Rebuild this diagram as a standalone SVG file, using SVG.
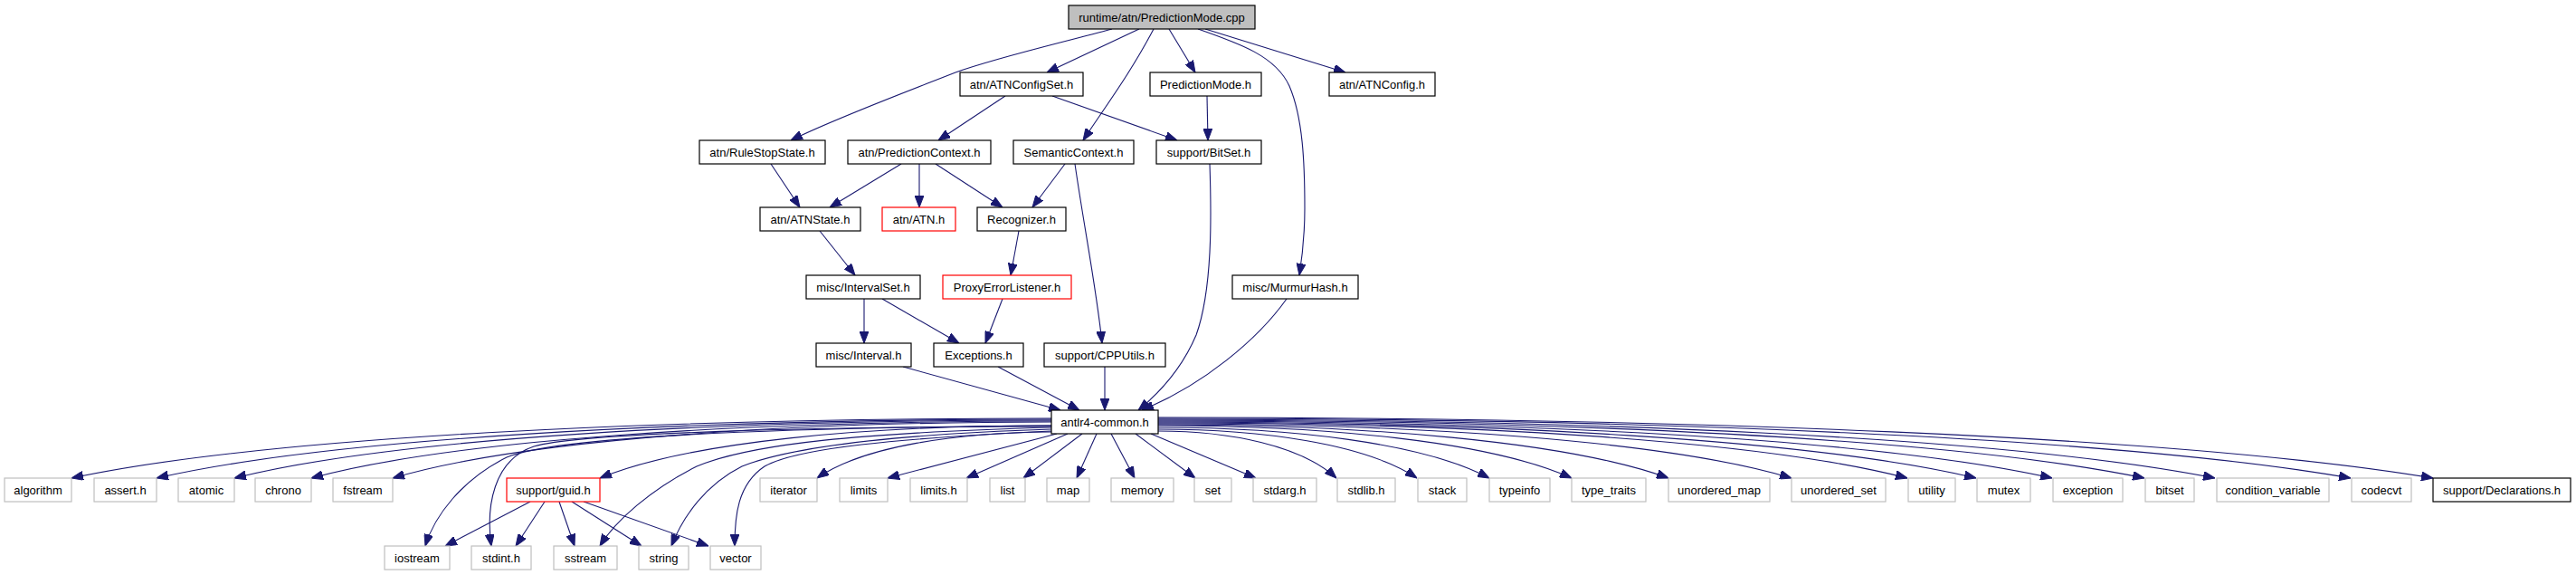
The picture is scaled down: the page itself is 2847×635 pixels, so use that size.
<svg xmlns="http://www.w3.org/2000/svg" width="2847" height="635" viewBox="0 0 2847 635">
<style>
rect{stroke-width:1.2}
.n rect{fill:#fff;stroke:#000}
.top rect{fill:#bfbfbf;stroke:#000}
.red rect{fill:#fff;stroke:#ff0000}
.ext rect{fill:#fff;stroke:#bfbfbf}
text{font-family:"Liberation Sans",Arial,sans-serif;font-size:13px;text-anchor:middle;fill:#000}
#edges path{fill:none;stroke:#191970;stroke-width:1.1;marker-end:url(#ah)}
</style>
<defs>
<marker id="ah" markerUnits="userSpaceOnUse" markerWidth="13" markerHeight="10" viewBox="0 0 13 10" refX="13" refY="5" orient="auto">
<path d="M0,0 L13,5 L0,10 z" fill="#191970" stroke="#191970" stroke-width="1"/>
</marker>
</defs>
<rect width="2847" height="635" fill="#fff"/>
<g id="edges">
<path d="M1229,32 C1170,48 1100,64 1056,80 C1000,102 920,132 874,155"/>
<path d="M1259,32 L1157,80"/>
<path d="M1275,32 C1250,80 1220,120 1197,155"/>
<path d="M1292,32 L1321,80"/>
<path d="M1324,32 C1370,48 1410,62 1425,95 C1440,130 1442,180 1442,230 C1442,260 1439,285 1436,304"/>
<path d="M1332,32 L1487,80"/>
<path d="M1111,106 L1037,155"/>
<path d="M1163,106 L1301,155"/>
<path d="M1334,106 L1335,155"/>
<path d="M852,181 L884,229"/>
<path d="M996,181 L917,229"/>
<path d="M1016,181 L1016,229"/>
<path d="M1034,181 L1108,229"/>
<path d="M1177,181 L1141,229"/>
<path d="M1188,181 C1198,250 1212,320 1218,379"/>
<path d="M1337,181 C1339,240 1340,320 1322,370 C1305,410 1280,435 1258,453"/>
<path d="M906,255 L945,304"/>
<path d="M1126,255 L1117,304"/>
<path d="M955,330 L955,379"/>
<path d="M975,330 L1060,379"/>
<path d="M1108,330 L1089,379"/>
<path d="M1422,330 C1390,375 1330,425 1262,453"/>
<path d="M998,405 L1172,453"/>
<path d="M1103,405 L1193,453"/>
<path d="M1221,405 L1221,453"/>
<path d="M1162,462 C729,462 296,482 79,528"/>
<path d="M1162,463 C766,463 371,483 173,528"/>
<path d="M1162,464 C801,464 440,483 259,528"/>
<path d="M1162,465 C835,465 508,484 344,528"/>
<path d="M1162,466 C871,466 580,485 434,528"/>
<path d="M1162,470 C962,470 763,487 663,528"/>
<path d="M1162,477 C1058,478 955,492 903,528"/>
<path d="M1168,479 L981,528"/>
<path d="M1180,479 L1068,528"/>
<path d="M1196,479 L1131,528"/>
<path d="M1212,479 L1190,528"/>
<path d="M1228,479 L1254,528"/>
<path d="M1255,479 L1321,528"/>
<path d="M1272,479 L1388,528"/>
<path d="M1280,476 C1359,476 1438,492 1477,528"/>
<path d="M1280,474 C1394,474 1509,490 1566,528"/>
<path d="M1280,472 C1426,472 1573,489 1646,528"/>
<path d="M1280,470 C1463,470 1646,487 1737,528"/>
<path d="M1280,469 C1506,469 1731,487 1844,528"/>
<path d="M1280,468 C1560,468 1840,486 1980,528"/>
<path d="M1280,467 C1611,467 1942,485 2108,528"/>
<path d="M1280,466 C1642,466 2003,485 2184,528"/>
<path d="M1280,465 C1675,465 2070,484 2268,528"/>
<path d="M1280,464 C1716,464 2152,483 2370,528"/>
<path d="M1280,463 C1747,463 2214,482 2448,528"/>
<path d="M1280,462 C1807,462 2334,482 2598,528"/>
<path d="M1280,461 C1844,461 2407,481 2689,528"/>
<path d="M1162,470 C900,472 620,480 560,505 C510,530 480,570 470,603"/>
<path d="M1162,471 C900,471 640,478 590,493 C545,508 537,560 543,603"/>
<path d="M1162,472 C950,478 830,490 770,515 C720,540 680,575 663,603"/>
<path d="M1162,474 C980,480 870,495 820,515 C780,535 755,570 742,603"/>
<path d="M1162,476 C990,484 880,495 845,515 C815,535 812,570 812,603"/>
<path d="M586,554 L492,603"/>
<path d="M602,554 L570,603"/>
<path d="M618,554 L635,603"/>
<path d="M632,554 L709,603"/>
<path d="M645,554 L783,603"/>
</g>
<g id="node-cpp" class="top"><rect x="1181" y="6" width="206" height="26"/><text x="1284" y="24">runtime/atn/PredictionMode.cpp</text></g>
<g id="node-atnconfigset" class="n"><rect x="1061" y="80" width="136" height="26"/><text x="1129" y="98">atn/ATNConfigSet.h</text></g>
<g id="node-predictionmode" class="n"><rect x="1271" y="80" width="123" height="26"/><text x="1332.5" y="98">PredictionMode.h</text></g>
<g id="node-atnconfig" class="n"><rect x="1469" y="80" width="117" height="26"/><text x="1527.5" y="98">atn/ATNConfig.h</text></g>
<g id="node-rulestopstate" class="n"><rect x="773" y="155" width="139" height="26"/><text x="842.5" y="173">atn/RuleStopState.h</text></g>
<g id="node-predictioncontext" class="n"><rect x="937" y="155" width="158" height="26"/><text x="1016" y="173">atn/PredictionContext.h</text></g>
<g id="node-semanticcontext" class="n"><rect x="1120" y="155" width="133" height="26"/><text x="1186.5" y="173">SemanticContext.h</text></g>
<g id="node-bitset" class="n"><rect x="1278" y="155" width="116" height="26"/><text x="1336" y="173">support/BitSet.h</text></g>
<g id="node-atnstate" class="n"><rect x="840" y="229" width="111" height="26"/><text x="895.5" y="247">atn/ATNState.h</text></g>
<g id="node-atn" class="red"><rect x="975" y="229" width="81" height="26"/><text x="1015.5" y="247">atn/ATN.h</text></g>
<g id="node-recognizer" class="n"><rect x="1080" y="229" width="98" height="26"/><text x="1129" y="247">Recognizer.h</text></g>
<g id="node-intervalset" class="n"><rect x="891" y="304" width="126" height="26"/><text x="954" y="322">misc/IntervalSet.h</text></g>
<g id="node-proxyerrorlistener" class="red"><rect x="1042" y="304" width="142" height="26"/><text x="1113" y="322">ProxyErrorListener.h</text></g>
<g id="node-murmurhash" class="n"><rect x="1362" y="304" width="139" height="26"/><text x="1431.5" y="322">misc/MurmurHash.h</text></g>
<g id="node-interval" class="n"><rect x="902" y="379" width="105" height="26"/><text x="954.5" y="397">misc/Interval.h</text></g>
<g id="node-exceptions" class="n"><rect x="1032" y="379" width="99" height="26"/><text x="1081.5" y="397">Exceptions.h</text></g>
<g id="node-cpputils" class="n"><rect x="1154" y="379" width="134" height="26"/><text x="1221" y="397">support/CPPUtils.h</text></g>
<g id="node-antlr4common" class="n"><rect x="1162" y="453" width="118" height="26"/><text x="1221" y="471">antlr4-common.h</text></g>
<g id="node-algorithm" class="ext"><rect x="5" y="528" width="74" height="26"/><text x="42" y="546">algorithm</text></g>
<g id="node-assert" class="ext"><rect x="104" y="528" width="69" height="26"/><text x="138.5" y="546">assert.h</text></g>
<g id="node-atomic" class="ext"><rect x="197" y="528" width="62" height="26"/><text x="228" y="546">atomic</text></g>
<g id="node-chrono" class="ext"><rect x="282" y="528" width="62" height="26"/><text x="313" y="546">chrono</text></g>
<g id="node-fstream" class="ext"><rect x="368" y="528" width="66" height="26"/><text x="401" y="546">fstream</text></g>
<g id="node-guid" class="red"><rect x="560" y="528" width="103" height="26"/><text x="611.5" y="546">support/guid.h</text></g>
<g id="node-iterator" class="ext"><rect x="840" y="528" width="63" height="26"/><text x="871.5" y="546">iterator</text></g>
<g id="node-limits" class="ext"><rect x="928" y="528" width="53" height="26"/><text x="954.5" y="546">limits</text></g>
<g id="node-limitsh" class="ext"><rect x="1006" y="528" width="63" height="26"/><text x="1037.5" y="546">limits.h</text></g>
<g id="node-list" class="ext"><rect x="1094" y="528" width="39" height="26"/><text x="1113.5" y="546">list</text></g>
<g id="node-map" class="ext"><rect x="1157" y="528" width="47" height="26"/><text x="1180.5" y="546">map</text></g>
<g id="node-memory" class="ext"><rect x="1228" y="528" width="69" height="26"/><text x="1262.5" y="546">memory</text></g>
<g id="node-set" class="ext"><rect x="1320" y="528" width="41" height="26"/><text x="1340.5" y="546">set</text></g>
<g id="node-stdarg" class="ext"><rect x="1385" y="528" width="70" height="26"/><text x="1420" y="546">stdarg.h</text></g>
<g id="node-stdlib" class="ext"><rect x="1478" y="528" width="64" height="26"/><text x="1510" y="546">stdlib.h</text></g>
<g id="node-stack" class="ext"><rect x="1567" y="528" width="54" height="26"/><text x="1594" y="546">stack</text></g>
<g id="node-typeinfo" class="ext"><rect x="1646" y="528" width="67" height="26"/><text x="1679.5" y="546">typeinfo</text></g>
<g id="node-typetraits" class="ext"><rect x="1737" y="528" width="82" height="26"/><text x="1778" y="546">type_traits</text></g>
<g id="node-unorderedmap" class="ext"><rect x="1844" y="528" width="112" height="26"/><text x="1900" y="546">unordered_map</text></g>
<g id="node-unorderedset" class="ext"><rect x="1980" y="528" width="104" height="26"/><text x="2032" y="546">unordered_set</text></g>
<g id="node-utility" class="ext"><rect x="2109" y="528" width="52" height="26"/><text x="2135" y="546">utility</text></g>
<g id="node-mutex" class="ext"><rect x="2185" y="528" width="59" height="26"/><text x="2214.5" y="546">mutex</text></g>
<g id="node-exception" class="ext"><rect x="2269" y="528" width="77" height="26"/><text x="2307.5" y="546">exception</text></g>
<g id="node-bitsetstd" class="ext"><rect x="2371" y="528" width="54" height="26"/><text x="2398" y="546">bitset</text></g>
<g id="node-condvar" class="ext"><rect x="2450" y="528" width="124" height="26"/><text x="2512" y="546">condition_variable</text></g>
<g id="node-codecvt" class="ext"><rect x="2599" y="528" width="66" height="26"/><text x="2632" y="546">codecvt</text></g>
<g id="node-declarations" class="n"><rect x="2689" y="528" width="152" height="26"/><text x="2765" y="546">support/Declarations.h</text></g>
<g id="node-iostream" class="ext"><rect x="425" y="603" width="72" height="26"/><text x="461" y="621">iostream</text></g>
<g id="node-stdint" class="ext"><rect x="521" y="603" width="66" height="26"/><text x="554" y="621">stdint.h</text></g>
<g id="node-sstream" class="ext"><rect x="612" y="603" width="70" height="26"/><text x="647" y="621">sstream</text></g>
<g id="node-string" class="ext"><rect x="706" y="603" width="55" height="26"/><text x="733.5" y="621">string</text></g>
<g id="node-vector" class="ext"><rect x="785" y="603" width="56" height="26"/><text x="813" y="621">vector</text></g>
</svg>
